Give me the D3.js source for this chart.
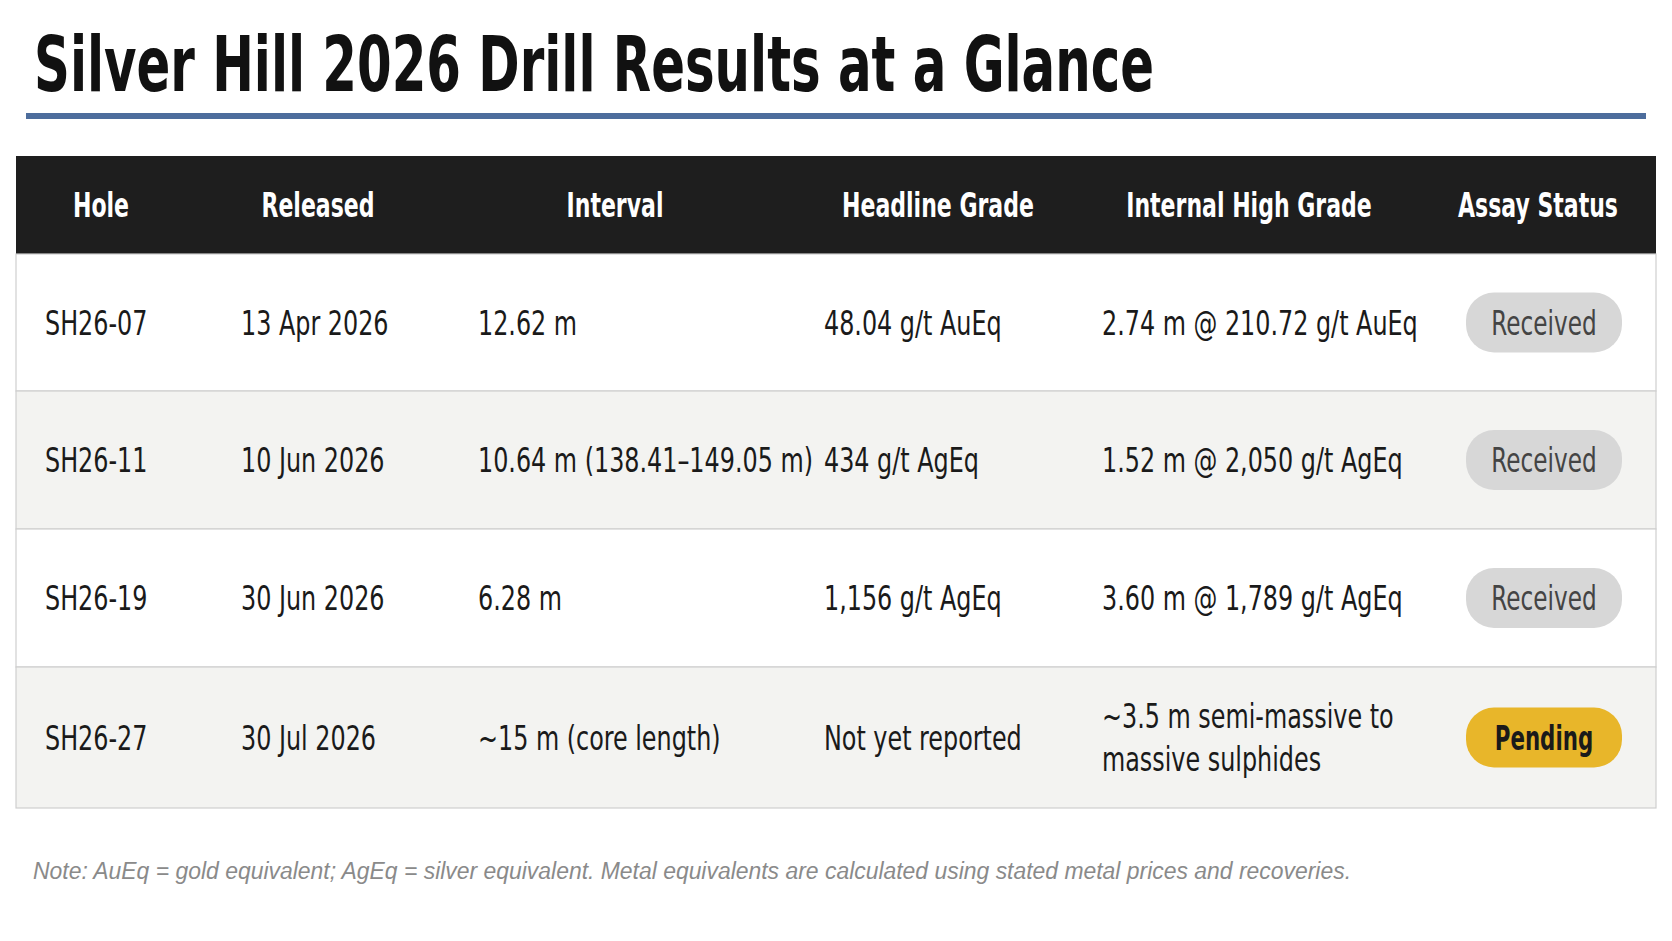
<!DOCTYPE html>
<html><head><meta charset="utf-8">
<script src="https://cdn.jsdelivr.net/npm/d3@7"></script>
<style>body{margin:0;background:#fff}</style>
</head><body><div id="chart"></div>
<script>
// table content
const columns = ["Hole", "Released", "Interval", "Headline Grade", "Internal High Grade", "Assay Status"]
const holes = ["SH26-07", "SH26-11", "SH26-19", "SH26-27"]
const released = ["13 Apr 2026", "10 Jun 2026", "30 Jun 2026", "30 Jul 2026"]
const intervals = ["12.62 m", "10.64 m (138.41–149.05 m)", "6.28 m", "~15 m (core length)"]
const headline = ["48.04 g/t AuEq", "434 g/t AgEq", "1,156 g/t AgEq", "Not yet reported"]
const internal = [["2.74 m @ 210.72 g/t AuEq"], ["1.52 m @ 2,050 g/t AgEq"], ["3.60 m @ 1,789 g/t AgEq"], ["~3.5 m semi-massive to", "massive sulphides"]]
const status = ["Received", "Received", "Received", "Pending"]

const width = 1672, height = 941
const font = "'Liberation Sans Narrow', 'DejaVu Sans Condensed', sans-serif"
const squeeze = 0.78 // no narrow font installed: compress glyphs horizontally

const svg = d3.select("#chart").append("svg")
    .attr("width", width).attr("height", height)

function narrow(sel, k) {
  sel.each(function () {
    const w = this.getComputedTextLength()
    d3.select(this).attr("textLength", w * (k || squeeze)).attr("lengthAdjust", "spacingAndGlyphs")
  })
}

// title
svg.append("text")
  .attr("x", 34).attr("y", 91)
  .attr("font-family", font).attr("font-weight", 700).attr("font-size", 76)
  .attr("textLength", 1120).attr("lengthAdjust", "spacingAndGlyphs")
  .attr("fill", "#111")
  .text("Silver Hill 2026 Drill Results at a Glance")

svg.append("rect").attr("x", 26).attr("y", 113).attr("width", 1620).attr("height", 6).attr("fill", "#4d6d9c")

const x0 = 16, x1 = 1656
const headTop = 156, headBottom = 254
const rowEdges = [254, 391, 529, 667, 808]

const textX = [45, 241, 478, 824, 1102]
const headX = [101, 318, 615, 938, 1249, 1538]
const pillX = 1544

// header
svg.append("rect").attr("x", x0).attr("y", headTop).attr("width", x1 - x0).attr("height", headBottom - headTop).attr("fill", "#1e1e1e")
svg.selectAll("text.head").data(columns).join("text")
  .attr("class", "head")
  .attr("x", (d, i) => headX[i]).attr("y", (headTop + headBottom) / 2 + 12)
  .attr("text-anchor", "middle")
  .attr("font-family", font).attr("font-weight", 700).attr("font-size", 34)
  .attr("fill", "#fff")
  .text(d => d)
  .call(narrow, 0.72)

// rows
const rows = svg.selectAll("g.row").data(holes).join("g")
  .attr("class", "row")
  .attr("transform", (d, i) => `translate(0,${rowEdges[i]})`)

rows.append("rect")
  .attr("x", x0).attr("width", x1 - x0)
  .attr("height", (d, i) => rowEdges[i + 1] - rowEdges[i])
  .attr("fill", (d, i) => i % 2 ? "#f3f3f1" : "#ffffff")
  .attr("stroke", "#cfcfcf").attr("stroke-width", 1.2)

rows.each(function (d, i) {
  const g = d3.select(this)
  const mid = (rowEdges[i + 1] - rowEdges[i]) / 2
  const cells = [[holes[i]], [released[i]], [intervals[i]], [headline[i]], internal[i]]
  cells.forEach((lines, c) => {
    lines.forEach((t, k) => {
      g.append("text")
        .attr("x", textX[c])
        .attr("y", mid + 12 + (k - (lines.length - 1) / 2) * 43)
        .attr("font-family", font).attr("font-size", 34)
        .attr("fill", "#1a1a1a")
        .text(t)
        .call(narrow)
    })
  })
  const pending = status[i] === "Pending"
  g.append("rect")
    .attr("x", pillX - 78).attr("y", mid - 30).attr("width", 156).attr("height", 60).attr("rx", 28)
    .attr("fill", pending ? "#e8b62a" : "#d7d7d7")
  g.append("text")
    .attr("x", pillX).attr("y", mid + 12).attr("text-anchor", "middle")
    .attr("font-family", font).attr("font-size", 33).attr("font-weight", pending ? 700 : 400)
    .attr("fill", pending ? "#1a1a1a" : "#444")
    .text(status[i])
    .call(narrow, pending ? 0.72 : 0.78)
})

// note
svg.append("text")
  .attr("x", 33).attr("y", 879)
  .attr("font-family", "'Liberation Sans', sans-serif").attr("font-style", "italic").attr("font-size", 23)
  .attr("textLength", 1318).attr("lengthAdjust", "spacingAndGlyphs")
  .attr("fill", "#8a8a8a")
  .text("Note: AuEq = gold equivalent;  AgEq = silver equivalent. Metal equivalents are calculated using stated metal prices and recoveries.")
</script>
</body></html>
